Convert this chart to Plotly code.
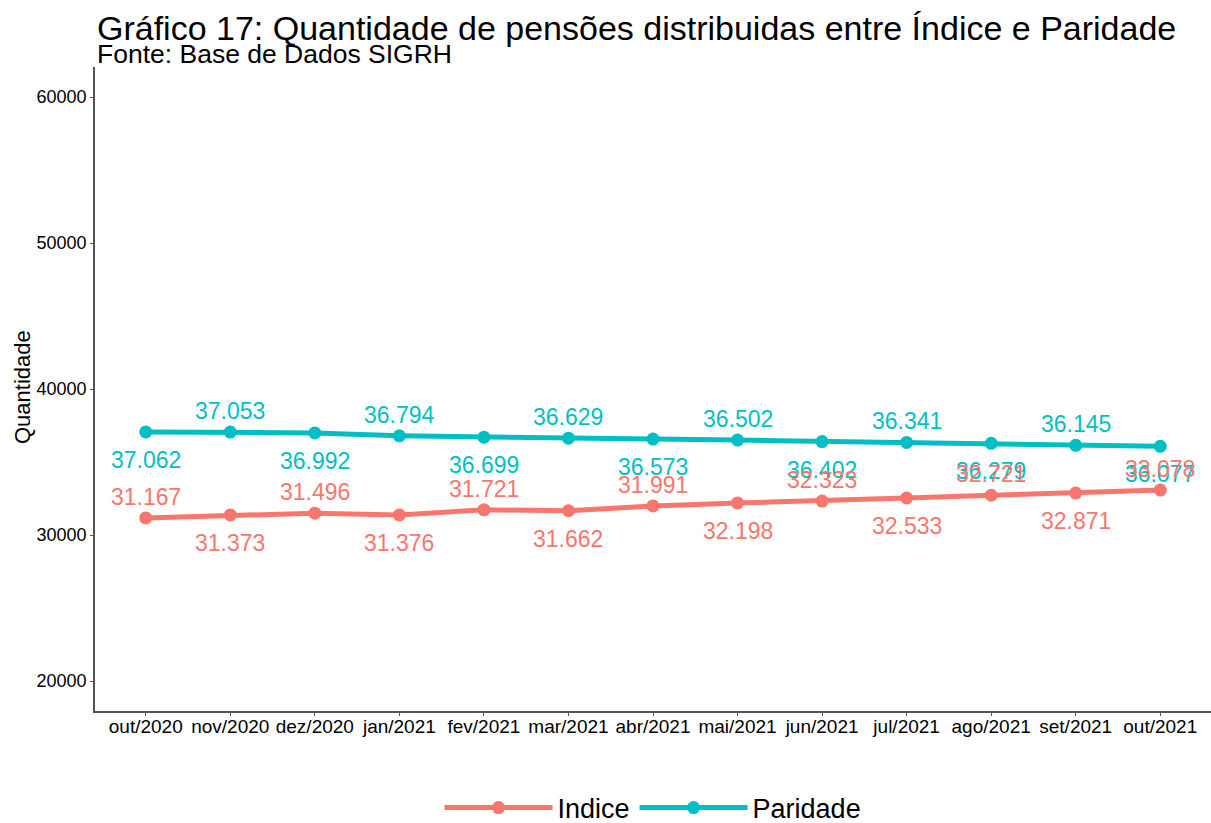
import plotly.graph_objects as go

meses = ["out/2020", "nov/2020", "dez/2020", "jan/2021", "fev/2021", "mar/2021", "abr/2021",
         "mai/2021", "jun/2021", "jul/2021", "ago/2021", "set/2021", "out/2021"]
indice = [31167, 31373, 31496, 31376, 31721, 31662, 31991, 32198, 32323, 32533, 32721, 32871, 33078]
paridade = [37062, 37053, 36992, 36794, 36699, 36629, 36573, 36502, 36402, 36341, 36279, 36145, 36077]
y_ticks = [20000, 30000, 40000, 50000, 60000]
y_ticktext = ["20000", "30000", "40000", "50000", "60000"]

COL_IND = "#F8766D"
COL_PAR = "#00BFC4"
FONT = "Arial, Liberation Sans, sans-serif"

PLOT_W = 1211 - 95
PLOT_H = 711 - 67


def fmt(v):
    return f"{v:,}".replace(",", ".")


fig = go.Figure()
fig.add_trace(go.Scatter(x=meses, y=indice, mode="lines+markers", name="Indice",
                         line=dict(color=COL_IND, width=5), marker=dict(size=13, color=COL_IND)))
fig.add_trace(go.Scatter(x=meses, y=paridade, mode="lines+markers", name="Paridade",
                         line=dict(color=COL_PAR, width=5), marker=dict(size=13, color=COL_PAR)))

annotations = []
for i, m in enumerate(meses):
    # Paridade: even below, odd above; Indice: even above, odd below
    up_p = (i % 2 == 1)
    annotations.append(dict(x=m, y=paridade[i], xref="x", yref="y", text=fmt(paridade[i]),
                            showarrow=False, yshift=21 if up_p else -28,
                            font=dict(family=FONT, size=23, color=COL_PAR)))
    up_i = (i % 2 == 0)
    annotations.append(dict(x=m, y=indice[i], xref="x", yref="y", text=fmt(indice[i]),
                            showarrow=False, yshift=21 if up_i else -28,
                            font=dict(family=FONT, size=23, color=COL_IND)))

annotations.append(dict(xref="paper", yref="paper", x=0, y=1 + (67 - 28) / PLOT_H, xanchor="left",
                        yanchor="middle", showarrow=False,
                        text="Gráfico 17: Quantidade de pensões distribuidas entre Índice e Paridade",
                        font=dict(family=FONT, size=34, color="black")))
annotations.append(dict(xref="paper", yref="paper", x=0, y=1 + (67 - 54) / PLOT_H, xanchor="left",
                        yanchor="middle", showarrow=False,
                        text="Fonte: Base de Dados SIGRH",
                        font=dict(family=FONT, size=26.5, color="black")))
annotations.append(dict(xref="paper", yref="paper", x=-(95 - 22) / PLOT_W, y=(711 - 387) / PLOT_H,
                        xanchor="center", yanchor="middle", showarrow=False, textangle=-90,
                        text="Quantidade", font=dict(family=FONT, size=22, color="black")))

fig.update_layout(
    width=1211, height=823,
    margin=dict(l=95, r=0, t=67, b=112),
    paper_bgcolor="white", plot_bgcolor="white",
    font=dict(family=FONT, color="black"),
    annotations=annotations,
    showlegend=True,
    legend=dict(orientation="h", x=0.5, xanchor="center",
                yref="container", y=(823 - 808) / 823, yanchor="middle",
                font=dict(family=FONT, size=27, color="black"), itemwidth=108,
                tracegroupgap=0),
    xaxis=dict(type="category", range=[-0.6, 12.6], showgrid=False, zeroline=False,
               showline=True, linecolor="#555555", linewidth=1.5, automargin=False,
               ticks="outside", ticklen=3, tickcolor="#555555", ticklabelstandoff=-6,
               tickfont=dict(family=FONT, size=19, color="black")),
    yaxis=dict(range=[17945, 62055], tickvals=y_ticks, ticktext=y_ticktext, showgrid=False,
               zeroline=False, automargin=False,
               showline=True, linecolor="#555555", linewidth=1.5,
               ticks="outside", ticklen=3, tickcolor="#555555",
               tickfont=dict(family=FONT, size=18, color="black")),
)

fig.write_html("out.html", config={"displayModeBar": False},
               post_script="document.body.style.margin='0px';")
